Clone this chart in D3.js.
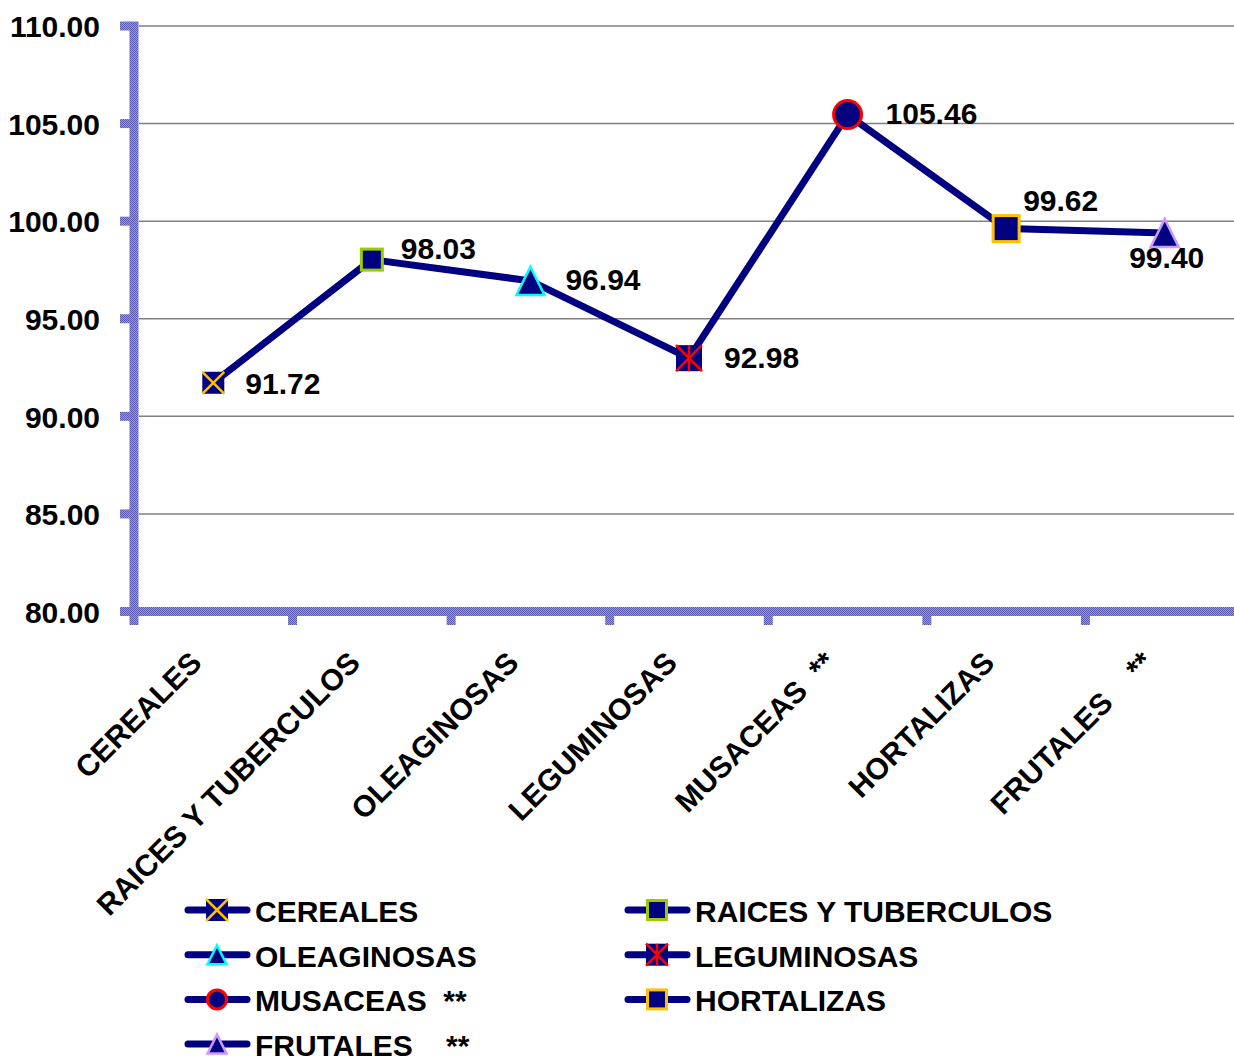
<!DOCTYPE html>
<html><head><meta charset="utf-8">
<script src="https://cdn.jsdelivr.net/npm/d3@7"></script>
<style>
html,body{margin:0;padding:0;background:#fff;}
svg{display:block;}
text{font-family:"Liberation Sans",Arial,sans-serif;font-weight:bold;fill:#000;}
</style></head>
<body>
<svg id="chart" width="1234" height="1056"></svg>
<script>
// ---- data ----
const categories = ["CEREALES","RAICES Y TUBERCULOS","OLEAGINOSAS","LEGUMINOSAS","MUSACEAS  **","HORTALIZAS","FRUTALES    **"];
const values = [91.72, 98.03, 96.94, 92.98, 105.46, 99.62, 99.40];
const yTicks = [80, 85, 90, 95, 100, 105, 110];
const markerShapes = ["squareX","square","triangle","squareStar","circle","square","triangle"];
const markerEdge = ["#FFC000","#99CC00","#00FFFF","#FF0000","#FF0000","#FFC000","#CC99FF"];

// ---- layout / style ----
const W = 1234, H = 1056;
const plotLeft = 134, plotRight = 1244, plotTop = 26, plotBottom = 611.5;
const navy = "#000080";
const fs = 30;
const labelOffsets = [[32,11,"start"],[29,-1,"start"],[35,9,"start"],[35,10,"start"],[38,9,"start"],[17,-18,"start"],[2,35,"middle"]];
const markerSize = [22,24,31,26,31,29,31];

const svg = d3.select("#chart");
const defs = svg.append("defs");
const pat = defs.append("pattern").attr("id","axpat").attr("patternUnits","userSpaceOnUse").attr("width",2).attr("height",2);
pat.append("rect").attr("width",2).attr("height",2).attr("fill","#9a9ad6");
pat.append("rect").attr("width",1).attr("height",1).attr("fill","#5858b0");
pat.append("rect").attr("x",1).attr("y",1).attr("width",1).attr("height",1).attr("fill","#5858b0");

const x = d3.scaleBand().domain(categories).range([plotLeft, plotRight]).padding(0);
const y = d3.scaleLinear().domain([80,110]).range([plotBottom, plotTop]);

// gridlines
svg.append("g").selectAll("line").data(yTicks.filter(t => t > 80)).join("line")
  .attr("x1", plotLeft+5).attr("x2", W)
  .attr("y1", d => y(d)).attr("y2", d => y(d))
  .attr("stroke","#808080").attr("stroke-width",1.5);

// y axis labels via d3 axis
const yAxis = svg.append("g").attr("transform",`translate(${plotLeft-34},0)`)
  .call(d3.axisLeft(y).tickValues(yTicks).tickFormat(d3.format(".2f")).tickSize(0).tickPadding(0));
yAxis.select(".domain").remove();
yAxis.selectAll("text").attr("font-size",fs).attr("font-family",null).attr("fill","#000").attr("dy","0.36em");

// axis bands (patterned)
const axg = svg.append("g").attr("fill","url(#axpat)");
axg.append("rect").attr("x",plotLeft-4.5).attr("y",plotTop-4.5).attr("width",9).attr("height",plotBottom-plotTop+18);
axg.append("rect").attr("x",plotLeft-14).attr("y",plotBottom-4.5).attr("width",W-(plotLeft-14)).attr("height",9);
axg.selectAll("rect.yt").data(yTicks).join("rect").attr("class","yt")
  .attr("x",plotLeft-14).attr("y",d=>y(d)-4.5).attr("width",10).attr("height",9);
const bounds = categories.slice(1).map(c => x(c));
axg.selectAll("rect.xt").data(bounds).join("rect").attr("class","xt")
  .attr("x",d=>d-4.5).attr("y",plotBottom+4.5).attr("width",9).attr("height",9);

// x labels
svg.append("g").selectAll("text").data(categories).join("text")
  .attr("transform", d => `translate(${x(d)+x.bandwidth()/2-10},${plotBottom+53}) rotate(-45)`)
  .attr("text-anchor","end").attr("font-size",fs).style("white-space","pre")
  .text(d => d);

// line
const pts = categories.map((c,i)=>({c, v: values[i], i}));
svg.append("path").datum(pts)
  .attr("d", d3.line().x(d=>x(d.c)+x.bandwidth()/2).y(d=>y(d.v)))
  .attr("fill","none").attr("stroke",navy).attr("stroke-width",7).attr("stroke-linejoin","round");

function drawMarker(g, shape, edge, s){
  const h = s/2;
  if (shape === "square"){
    g.append("rect").attr("x",-h+1.5).attr("y",-h+1.5).attr("width",s-3).attr("height",s-3)
      .attr("fill",navy).attr("stroke",edge).attr("stroke-width",3);
  } else if (shape === "squareX" || shape === "squareStar"){
    g.append("rect").attr("x",-h).attr("y",-h).attr("width",s).attr("height",s).attr("fill",navy);
    g.append("path").attr("d",`M${-h},${-h}L${h},${h}M${h},${-h}L${-h},${h}` + (shape==="squareStar"?`M0,${-h}L0,${h}`:""))
      .attr("stroke",edge).attr("stroke-width",2.5).attr("fill","none");
  } else if (shape === "triangle"){
    g.append("path").attr("d",`M0,${-h+1.5}L${h-1.5},${h-1.5}L${-h+1.5},${h-1.5}Z`)
      .attr("fill",navy).attr("stroke",edge).attr("stroke-width",2.5).attr("stroke-linejoin","miter");
  } else if (shape === "circle"){
    g.append("circle").attr("r",h-1.5).attr("fill",navy).attr("stroke",edge).attr("stroke-width",3);
  }
}

// markers
pts.forEach(d=>{
  const g = svg.append("g").attr("transform",`translate(${x(d.c)+x.bandwidth()/2},${y(d.v)})`);
  drawMarker(g, markerShapes[d.i], markerEdge[d.i], markerSize[d.i]);
});

// value labels
svg.append("g").selectAll("text").data(pts).join("text")
  .attr("x", d => x(d.c)+x.bandwidth()/2 + labelOffsets[d.i][0])
  .attr("y", d => y(d.v) + labelOffsets[d.i][1])
  .attr("text-anchor", d => labelOffsets[d.i][2])
  .attr("font-size",fs)
  .text(d => d3.format(".2f")(d.v));

// legend
const legCols = [185, 625], legRow0 = 910, legRowH = 44.7;
const leg = svg.append("g").selectAll("g").data(pts).join("g")
  .attr("transform", d => `translate(${legCols[d.i%2]},${legRow0 + Math.floor(d.i/2)*legRowH})`);
leg.append("line").attr("x1",3).attr("x2",62).attr("y1",0).attr("y2",0)
  .attr("stroke",navy).attr("stroke-width",7).attr("stroke-linecap","round");
leg.each(function(d){
  const g = d3.select(this).append("g").attr("transform","translate(32,0)");
  drawMarker(g, markerShapes[d.i], markerEdge[d.i], 22);
});
leg.append("text").attr("x",70).attr("y",12).attr("font-size",fs).style("white-space","pre").text(d=>d.c);
</script>
</body></html>
